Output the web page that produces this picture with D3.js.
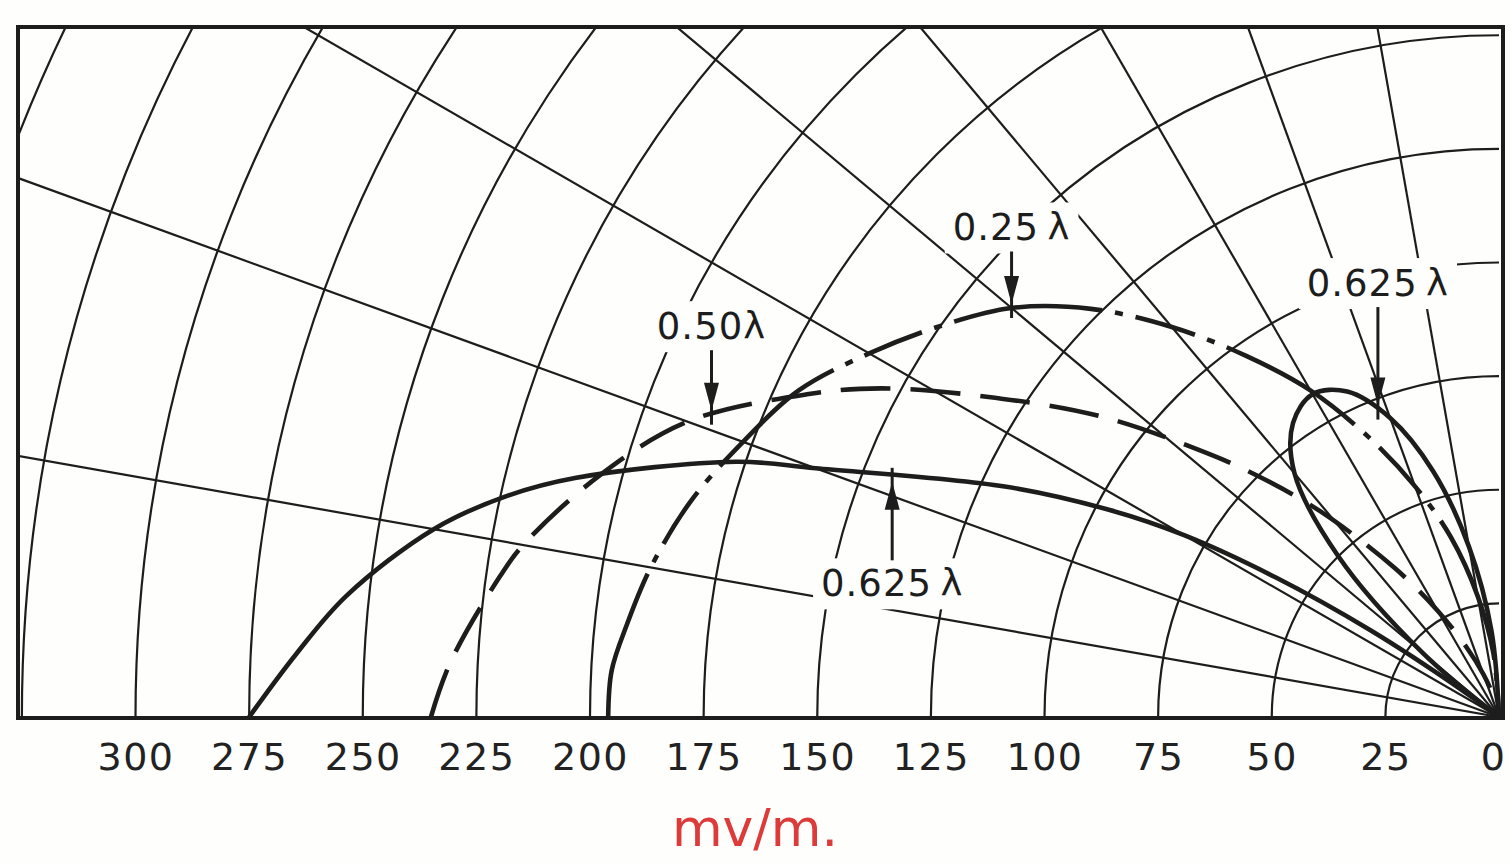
<!DOCTYPE html>
<html>
<head>
<meta charset="utf-8">
<script src="https://cdn.jsdelivr.net/npm/d3@7"></script>
<style>
  body { margin: 0; background: #fff; }
  svg { display: block; }
</style>
</head>
<body>
<svg id="chart" width="1510" height="863"></svg>
<script>
// field strength (mv/m) against elevation angle (degrees)
var elev025 = [0, 3, 6, 10, 15, 20, 25, 30, 35, 40, 45, 50, 55, 60, 65, 70, 75, 80, 85, 90];
var field025 = [196, 195.5, 193, 189.5, 184, 177, 170, 160, 150, 140, 127, 112, 97, 83, 68, 54, 41, 27, 14, 0];

var elev050 = [0, 3, 8, 10, 15, 20, 25, 28, 32, 37, 42, 45, 49, 55, 60, 65, 70, 75, 80, 90];
var field050 = [235, 231, 222, 218, 205, 190, 168, 154, 133, 110, 87, 75, 60, 40, 27, 17, 10, 5, 2, 0];

// 0.625 wave: main lobe and the high angle lobe
var elev0625 = [0, 3, 6, 10, 12.5, 14.5, 18.5, 20, 25, 28, 30, 32, 34, 36, 37];
var field0625 = [275, 265, 255, 238, 224, 210, 177, 160, 120, 97, 80, 58, 34, 10, 0];
var elev0625hi = [37, 40, 45, 50, 55, 60, 65, 70, 75, 80, 85, 90];
var field0625hi = [0, 22, 50, 70, 79, 82, 79, 70, 56, 38, 19, 0];

var rings = [25, 50, 75, 100, 125, 150, 175, 200, 225, 250, 275, 300, 325, 350];
var spokes = [10, 20, 30, 40, 50, 60, 70, 80];
var tickVals = [300, 275, 250, 225, 200, 175, 150, 125, 100, 75, 50, 25, 0];

// where the arrows point: series, elevation, label text
var notes = [
  {label: "0.25\u2009\u03bb", s: "q", at: 40, dy: -80},
  {label: "0.50\u03bb", s: "h", at: 21, dy: -88},
  {label: "0.625\u2009\u03bb", s: "m", at: 22, dy: 112},
  {label: "0.625\u2009\u03bb", s: "l", at: 68.5, dy: -126}
];

var frame = {left: 18, top: 27, right: 1503, bottom: 718};
var ox = 1499, oy = 717;
var ink = "#1d1d1d";

var svg = d3.select("#chart");

var r = d3.scaleLinear().domain([0, 300]).range([0, 1363.5]);
var x = d3.scaleLinear().domain([0, 300]).range([ox, ox - 1363.5]);

function zip(a, b) { return a.map(function(v, i) { return [v, b[i]]; }); }
var series = {
  q: zip(elev025, field025),
  h: zip(elev050, field050),
  m: zip(elev0625, field0625),
  l: zip(elev0625hi, field0625hi)
};

function rad(deg) { return deg * Math.PI / 180; }
function toXY(e, f) {
  return [ox - r(f) * Math.cos(rad(e)), oy - r(f) * Math.sin(rad(e))];
}
function valueAt(s, e) {
  var d = series[s];
  var f = d3.scaleLinear().domain(d.map(function(p) { return p[0]; }))
    .range(d.map(function(p) { return p[1]; }));
  return f(e);
}

svg.append("rect").attr("width", 1510).attr("height", 863).attr("fill", "#fefefc");

svg.append("clipPath").attr("id", "clip")
  .append("rect")
  .attr("x", frame.left).attr("y", frame.top)
  .attr("width", frame.right - frame.left).attr("height", frame.bottom - frame.top);

var plot = svg.append("g").attr("clip-path", "url(#clip)");
var grid = plot.append("g").attr("transform", "translate(" + ox + "," + oy + ")")
  .attr("stroke", ink).attr("fill", "none");

grid.selectAll(".ring").data(rings).enter().append("path")
  .attr("class", "ring")
  .attr("stroke-width", 2.2)
  .attr("d", function(d) {
    var p = d3.path();
    p.moveTo(-r(d), 0);
    p.arc(0, 0, r(d), Math.PI, 1.5 * Math.PI);
    return p.toString();
  });

grid.selectAll(".spoke").data(spokes).enter().append("line")
  .attr("class", "spoke")
  .attr("stroke-width", 2.2)
  .attr("x1", 0).attr("y1", 0)
  .attr("x2", function(d) { return -r(500) * Math.cos(rad(d)); })
  .attr("y2", function(d) { return -r(500) * Math.sin(rad(d)); });

// labels sit on white patches that break the grid
var labels = svg.append("g");
notes.forEach(function(n) {
  var tip = toXY(n.at, valueAt(n.s, n.at));
  n.tip = tip;
  n.lx = tip[0];
  n.ly = tip[1] + n.dy;
});
var lab = labels.selectAll("g").data(notes).enter().append("g");
var txt = lab.append("text")
  .attr("x", function(d) { return d.lx; })
  .attr("y", function(d) { return d.ly; })
  .attr("text-anchor", "middle")
  .attr("dominant-baseline", "central")
  .attr("font-family", "DejaVu Sans, sans-serif")
  .attr("font-size", 37)
  .attr("letter-spacing", 1)
  .attr("fill", ink)
  .text(function(d) { return d.label; });
txt.each(function(d) {
  var b = this.getBBox();
  d.box = b;
  d3.select(this.parentNode).insert("rect", "text")
    .attr("x", b.x - 8).attr("y", b.y - 4)
    .attr("width", b.width + 16).attr("height", b.height + 8)
    .attr("fill", "#fefefc");
});

var line = d3.lineRadial()
  .angle(function(d) { return rad(d[0] - 90); })
  .radius(function(d) { return r(d[1]); })
  .curve(d3.curveCatmullRom);

var curves = plot.append("g").attr("transform", "translate(" + ox + "," + oy + ")")
  .attr("fill", "none").attr("stroke", ink).attr("stroke-width", 4.6);

curves.append("path").datum(series.m).attr("d", line);
curves.append("path").datum(series.l).attr("d", line);
curves.append("path").datum(series.h).attr("d", line)
  .attr("stroke-dasharray", "50 20");
curves.append("path").datum(series.q).attr("d", line)
  .attr("stroke-dasharray", "150 13 8 13 62 13 8 13");

// arrows from label to curve
var arrows = svg.append("g").attr("fill", ink).attr("stroke", ink);
notes.forEach(function(n) {
  var down = n.dy < 0;
  var start = down ? n.box.y + n.box.height + 2 : n.box.y - 2;
  var end = down ? n.tip[1] - 4 : n.tip[1] + 10;
  var head = down ? -28 : 28;
  arrows.append("line")
    .attr("x1", n.lx).attr("y1", start)
    .attr("x2", n.lx).attr("y2", end - head * 0.5)
    .attr("stroke-width", 3);
  arrows.append("path")
    .attr("stroke", "none")
    .attr("d", "M" + n.lx + "," + end + "L" + (n.lx - 7.5) + "," + (end + head) +
      "L" + (n.lx + 7.5) + "," + (end + head) + "Z");
});

// frame
svg.append("rect")
  .attr("x", frame.left).attr("y", frame.top)
  .attr("width", frame.right - frame.left).attr("height", frame.bottom - frame.top)
  .attr("fill", "none").attr("stroke", ink).attr("stroke-width", 4);

// distance axis along the bottom
var xAxis = d3.axisBottom(x).tickValues(tickVals).tickSize(0).tickPadding(25)
  .tickFormat(d3.format("d"));
var ax = svg.append("g").attr("transform", "translate(0," + frame.bottom + ")").call(xAxis);
ax.select(".domain").remove();
ax.selectAll("text")
  .attr("font-family", "DejaVu Sans, sans-serif")
  .attr("font-size", 38)
  .attr("letter-spacing", 1.5)
  .attr("fill", "#222")
  .attr("dx", function(d) { return d === 0 ? -6 : 0; });

svg.append("text")
  .attr("x", 755).attr("y", 846)
  .attr("text-anchor", "middle")
  .attr("font-family", "DejaVu Sans, sans-serif")
  .attr("font-size", 52)
  .attr("fill", "#dd3a3a")
  .text("mv/m.");
</script>
</body>
</html>
